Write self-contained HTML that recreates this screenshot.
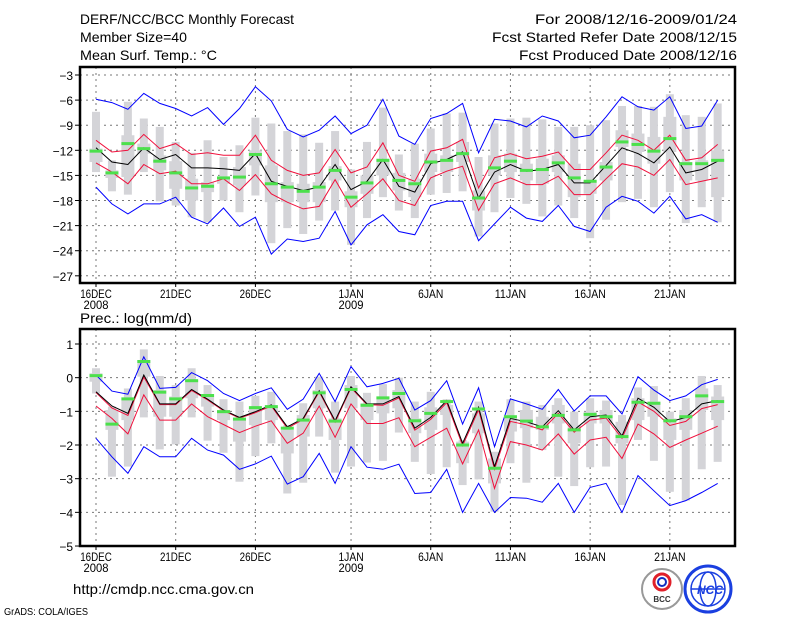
<!DOCTYPE html>
<html><head><meta charset="utf-8"><style>
html,body{margin:0;padding:0;background:#fff;}
svg{display:block;font-family:"Liberation Sans",sans-serif;}
</style></head><body>
<svg id="c" width="800" height="618" viewBox="0 0 800 618" xmlns="http://www.w3.org/2000/svg">
<rect width="800" height="618" fill="#fff"/>
<text x="80" y="24" font-size="14" textLength="214" lengthAdjust="spacingAndGlyphs">DERF/NCC/BCC Monthly Forecast</text>
<text x="80" y="42" font-size="14" textLength="107" lengthAdjust="spacingAndGlyphs">Member Size=40</text>
<text x="80" y="60" font-size="14" textLength="137" lengthAdjust="spacingAndGlyphs">Mean Surf. Temp.: °C</text>
<text x="535" y="24" font-size="14" textLength="202" lengthAdjust="spacingAndGlyphs">For 2008/12/16-2009/01/24</text>
<text x="492" y="42" font-size="14" textLength="245" lengthAdjust="spacingAndGlyphs">Fcst Started Refer Date 2008/12/15</text>
<text x="519" y="60" font-size="14" textLength="218" lengthAdjust="spacingAndGlyphs">Fcst Produced Date 2008/12/16</text>
<text x="80" y="323" font-size="14" textLength="112" lengthAdjust="spacingAndGlyphs">Prec.: log(mm/d)</text>
<text x="73" y="594" font-size="14" textLength="181" lengthAdjust="spacingAndGlyphs">http://cmdp.ncc.cma.gov.cn</text>
<text x="4" y="615" font-size="10" textLength="84" lengthAdjust="spacingAndGlyphs">GrADS: COLA/IGES</text>
<g>
<circle cx="662" cy="589" r="20" fill="#fff" stroke="#999" stroke-width="2"/>
<circle cx="662" cy="582" r="8" fill="none" stroke="#e0202a" stroke-width="3"/>
<circle cx="662" cy="582" r="4" fill="none" stroke="#1030c0" stroke-width="2"/>
<text x="662" y="602" font-size="8" font-weight="bold" text-anchor="middle" fill="#333">BCC</text>
</g>
<g>
<circle cx="708" cy="589" r="23" fill="#fff" stroke="#1a3fe0" stroke-width="3"/>
<ellipse cx="708" cy="589" rx="17" ry="17" fill="none" stroke="#1a3fe0" stroke-width="1.5"/>
<ellipse cx="708" cy="589" rx="8" ry="17" fill="none" stroke="#1a3fe0" stroke-width="1.5"/>
<line x1="691" y1="589" x2="725" y2="589" stroke="#1a3fe0" stroke-width="1.5"/>
<text x="710" y="594" font-size="12" font-weight="bold" font-style="italic" text-anchor="middle" fill="#1a3fe0">NCC</text>
</g>
</svg>
<script>
const days = ["16DEC","17DEC","18DEC","19DEC","20DEC","21DEC","22DEC","23DEC","24DEC","25DEC","26DEC","27DEC","28DEC","29DEC","30DEC","31DEC","1JAN","2JAN","3JAN","4JAN","5JAN","6JAN","7JAN","8JAN","9JAN","10JAN","11JAN","12JAN","13JAN","14JAN","15JAN","16JAN","17JAN","18JAN","19JAN","20JAN","21JAN","22JAN","23JAN","24JAN"];
const xTickLabels = ["16DEC","21DEC","26DEC","1JAN","6JAN","11JAN","16JAN","21JAN"];
const xTickDays = [0,5,10,16,21,26,31,36];
const xYearLabels = ["2008","","","2009","","","",""];
const tTicks = [-3,-6,-9,-12,-15,-18,-21,-24,-27];
const tBlueHi = [-5.9,-6.3,-7.1,-5.2,-6.4,-7,-7.9,-6.9,-8.9,-7,-4.4,-6.1,-9.5,-10.4,-9.6,-7.9,-10,-9,-5.9,-10.3,-11.3,-8.2,-7.6,-6.4,-12.3,-8.3,-8.5,-9.2,-7.9,-8.5,-10.5,-10.2,-8,-5.6,-6.8,-7.2,-5.6,-9.4,-9.1,-6];
const tBlueLo = [-16.4,-18.4,-19.6,-18.4,-18.4,-17.6,-20,-20.8,-18.9,-21.1,-20,-24.4,-22.6,-22.9,-22.5,-19.3,-23.3,-20.9,-19.7,-21.7,-22.1,-18.6,-18.1,-18.1,-22.8,-20.8,-18.8,-20.1,-20.5,-18.6,-21.1,-21.7,-18.8,-17.5,-18.1,-19.5,-17.5,-20.2,-19.7,-20.6];
const tRedHi = [-10.8,-12.2,-12,-10.1,-11.8,-11.2,-12.5,-12.3,-12.6,-12.6,-10.2,-13.2,-14.4,-15,-14.7,-11.9,-14.7,-14,-11.1,-15,-15.7,-12.1,-11.7,-10.7,-16.5,-12.9,-12.4,-13,-12.7,-12.2,-14.3,-14.3,-12.3,-10.2,-10.8,-12,-10.2,-13.2,-12.9,-11.3];
const tRedLo = [-13.5,-14.6,-16,-13.7,-14.8,-14.5,-16,-16,-15.4,-16.8,-14.9,-17.2,-18.2,-19,-18.7,-15.5,-18.8,-17.2,-15.4,-18,-18.6,-15.3,-14.5,-13.9,-19.2,-16,-15.3,-16.1,-16.1,-15.1,-17.3,-17.3,-15.4,-13.6,-14,-15,-13.1,-16.1,-15.7,-15.3];
const tMedian = [-11.7,-13.4,-13.7,-11.7,-13.1,-12.5,-14.1,-14.1,-14.2,-14.4,-12.4,-15.7,-16.3,-16.8,-16.4,-13.7,-16.7,-15.7,-13.1,-16.3,-17,-13.6,-13.1,-12.2,-17.7,-14.6,-13.7,-14.5,-14.3,-13.7,-15.9,-15.9,-13.8,-11.7,-12.4,-13.5,-11.6,-14.7,-14.3,-13.3];
const tGreen = [-12.1,-14.7,-11.2,-11.8,-13.3,-14.7,-16.5,-16.3,-15.3,-15.2,-12.5,-16,-16.4,-16.9,-16.4,-14.4,-17.6,-15.9,-13.2,-15.6,-16,-13.4,-13.2,-12.4,-17.7,-14.1,-13.3,-14.4,-14.3,-13.5,-15.3,-15.7,-14,-11,-11.3,-12.1,-10.6,-13.6,-13.6,-13.2];
const tWhiskHi = [-7.4,-13.2,-6.2,-8.2,-9.2,-11,-12.3,-10.8,-12.8,-11.4,-8.1,-8.8,-9.7,-10.1,-11.1,-9.7,-14.3,-11,-6.9,-12.5,-11.2,-9.4,-7.6,-7.5,-12.8,-8.8,-8.2,-8.1,-8.3,-9.2,-9.2,-9,-8.4,-6.7,-6.7,-6.8,-5.3,-7.8,-8,-6.4];
const tWhiskLo = [-14.6,-16.9,-17.3,-14.6,-18.1,-18.6,-20,-20.6,-18,-19.4,-17.4,-23.1,-21.3,-22,-20.4,-19.2,-23.3,-20.1,-17.6,-19.2,-20.1,-17.3,-17.1,-16.9,-22.3,-19.4,-17.7,-18.4,-19.9,-18.6,-20.1,-22.5,-20.3,-18.2,-17.8,-18.8,-17,-20.7,-18.8,-20.6];
const tBoxHi = [-11.8,-14.4,-10.2,-11.2,-12.6,-13.3,-15.4,-15.8,-15.2,-14,-12,-13.8,-15.8,-16,-15.8,-13.9,-16.9,-15,-13,-14.7,-15.4,-12.4,-12.6,-11,-16.8,-12.6,-12.4,-13.6,-13,-12.6,-13.6,-15.6,-13.4,-9.6,-10,-10.4,-8,-13.4,-13.2,-12];
const tBoxLo = [-13.4,-15.3,-15.2,-12.4,-14.4,-16.6,-18,-17,-16,-16.2,-13.8,-18.2,-18.2,-18.2,-18.2,-15.6,-18.8,-17.2,-15,-16.8,-17.6,-14.6,-14.6,-13.4,-19.2,-15,-14.6,-15.6,-16,-14.6,-17.6,-17.2,-15.6,-11.6,-12.2,-13.6,-12.2,-15.6,-15.6,-17.6];
const pTicks = [1,0,-1,-2,-3,-4,-5];
const pBlueHi = [0.08,-0.4,-0.49,0.62,-0.32,-0.29,0.15,-0.09,-0.47,-0.68,-0.47,-0.3,-0.94,-0.64,0.13,-0.71,0.33,-0.27,-0.17,-0.02,-0.96,-0.68,-0.09,-1.38,-0.3,-2.05,-0.63,-0.78,-0.94,-0.35,-0.99,-0.54,-0.54,-1.08,0.03,-0.37,-0.68,-0.54,-0.21,-0.05];
const pBlueLo = [-1.8,-2.35,-2.84,-2.05,-2.35,-2.35,-1.8,-2.15,-2.3,-2.72,-2.56,-2.33,-3.16,-2.94,-2.25,-3.14,-2.05,-2.66,-2.72,-2.57,-3.44,-3.41,-2.72,-4,-3.14,-4,-3.56,-3.58,-3.7,-3.14,-4,-3.26,-3.14,-4,-2.91,-3.36,-3.8,-3.65,-3.41,-3.14];
const pRedLo = [-0.84,-1.21,-1.67,-0.51,-1.26,-1.26,-0.78,-1.16,-1.39,-1.63,-1.44,-1.28,-1.95,-1.65,-0.84,-1.77,-0.78,-1.36,-1.36,-1.19,-2.05,-1.77,-1.5,-2.56,-1.55,-3.29,-1.9,-2,-2.15,-1.67,-2.27,-1.85,-1.77,-2.4,-1.38,-1.67,-2.07,-1.85,-1.65,-1.44];
const pMedian = [-0.42,-0.84,-1.06,0.08,-0.78,-0.78,-0.35,-0.64,-0.96,-1.18,-1.01,-0.81,-1.46,-1.21,-0.39,-1.28,-0.27,-0.78,-0.78,-0.56,-1.5,-1.18,-0.68,-1.95,-0.88,-2.64,-1.21,-1.31,-1.46,-0.98,-1.55,-1.16,-1.11,-1.73,-0.61,-0.88,-1.31,-1.18,-0.78,-0.68];
const pRedHi = [-0.44,-0.9,-1.12,0.02,-0.8,-0.8,-0.38,-0.66,-0.98,-1.2,-1.04,-0.84,-1.5,-1.24,-0.42,-1.32,-0.3,-0.8,-0.82,-0.6,-1.56,-1.24,-0.74,-2.02,-0.95,-2.72,-1.3,-1.4,-1.55,-1.06,-1.62,-1.26,-1.2,-1.8,-0.72,-1,-1.42,-1.3,-0.92,-0.8];
const pGreen = [0.06,-1.38,-0.63,0.48,-0.43,-0.63,-0.09,-0.53,-1.01,-1.23,-0.89,-0.86,-1.5,-1.26,-0.45,-1.29,-0.35,-0.82,-0.6,-0.47,-1.28,-1.06,-0.71,-2,-0.93,-2.69,-1.16,-1.29,-1.46,-1.12,-1.55,-1.09,-1.16,-1.75,-0.73,-0.76,-1.28,-1.16,-0.54,-0.71];
const pWhiskHi = [0.28,-0.86,-0.32,0.84,0.05,-0.22,0.28,-0.22,-0.64,-0.71,-0.54,-0.42,-1.41,-0.76,0.03,-0.71,0.05,-0.45,-0.19,0,-0.71,-0.42,-0.64,-1.85,-0.71,-2.2,-0.64,-0.71,-0.81,-0.61,-1.01,-0.61,-0.68,-1.11,-0.29,-0.25,-1.01,-0.61,0.05,-0.22];
const pWhiskLo = [-0.47,-2.94,-2.64,-1.18,-2.13,-1.98,-1.18,-1.87,-2.23,-3.09,-2.33,-1.95,-3.44,-3.12,-1.75,-2.82,-2.64,-2.52,-2.47,-1.63,-2.5,-2.86,-2.66,-3.19,-3.02,-3.98,-2.54,-3.12,-2.15,-2.94,-3.22,-2.66,-2.64,-3.78,-1.85,-2.47,-3.39,-3.65,-2.72,-2.5];
const pBoxHi = [0.13,-0.96,-0.66,0.52,-0.37,-0.56,-0.07,-0.56,-0.96,-1.21,-0.91,-0.86,-1.55,-1.11,-0.37,-1.21,-0.22,-0.76,-0.56,-0.37,-1.21,-0.88,-0.81,-1.9,-1.06,-2.4,-1.16,-0.96,-1.16,-0.81,-1.41,-1.01,-0.96,-1.31,-0.61,-0.71,-1.21,-0.96,-0.32,-0.56];
const pBoxLo = [-0.12,-1.55,-1.26,0.03,-1.16,-1.16,-0.61,-0.86,-1.26,-1.9,-1.41,-1.26,-2.25,-1.75,-0.91,-1.85,-0.91,-1.26,-1.06,-0.91,-1.65,-1.55,-1.11,-2.54,-1.65,-3.14,-1.6,-1.5,-1.55,-1.36,-1.95,-1.36,-1.36,-1.95,-1.26,-1.16,-1.85,-1.55,-0.96,-1.26];

const NS = "http://www.w3.org/2000/svg";
const svg = document.getElementById('c');
function mk(tag, attrs, parent){
  const e = document.createElementNS(NS, tag);
  for (const k in attrs) e.setAttribute(k, attrs[k]);
  (parent||svg).appendChild(e);
  return e;
}
const X0 = 96, DX = 15.94;
function xAt(i){ return X0 + i*DX; }

function panel(cfg){
  const g = mk('g', {});
  
  
  const y = v => cfg.yRef + (cfg.vRef - v) * cfg.pxPer;
  cfg.ticks.forEach(t => {
    const l = mk('line', {x1:80, x2:735, y1:y(t), y2:y(t), stroke:'#777', 'stroke-width':1, 'stroke-dasharray':'2,4'}, g);
    
    
    const tk = mk('line', {x1:75, x2:80, y1:y(t), y2:y(t), stroke:'#000', 'stroke-width':1}, g);
    
    
    const lb = mk('text', {x:73, y:y(t)+5, 'font-size':12, 'text-anchor':'end'}, g);
    lb.textContent = (t<0 ? '\u2212'+Math.abs(t) : String(t));
    
    
  });
  xTickDays.forEach((d, k) => {
    const l = mk('line', {x1:xAt(d), x2:xAt(d), y1:cfg.top, y2:cfg.bottom, stroke:'#777', 'stroke-width':1, 'stroke-dasharray':'2,4'}, g);
    
    
    const tk = mk('line', {x1:xAt(d), x2:xAt(d), y1:cfg.bottom, y2:cfg.bottom+4, stroke:'#000', 'stroke-width':1}, g);
    
    
    const lb = mk('text', {x:xAt(d), y:cfg.bottom+15, 'font-size':12, 'text-anchor':'middle', textLength: xTickLabels[k].length*6.3, lengthAdjust:'spacingAndGlyphs'}, g);
    lb.textContent = xTickLabels[k];
    
    
    if (xYearLabels[k]) {
      const yl = mk('text', {x:xAt(d), y:cfg.bottom+26, 'font-size':12, 'text-anchor':'middle', textLength:25, lengthAdjust:'spacingAndGlyphs'}, g);
      yl.textContent = xYearLabels[k];
      
      
    }
  });
  days.forEach((d, i) => {
    const w = mk('rect', {x:xAt(i)-4, y:y(cfg.wHi[i]), width:8, height:y(cfg.wLo[i])-y(cfg.wHi[i]), fill:'#d4d4d8'}, g);
    
    
    const b = mk('rect', {x:xAt(i)-6.5, y:y(cfg.bHi[i]), width:13, height:y(cfg.bLo[i])-y(cfg.bHi[i]), fill:'#d4d4d8'}, g);
    
    
  });
  cfg.lines.forEach(s => {
    const pts = s.data.map((v,i) => xAt(i).toFixed(1)+','+y(v).toFixed(1)).join(' ');
    const pl = mk('polyline', {points:pts, fill:'none', stroke:s.color, 'stroke-width':1}, g);
    
    
  });
  cfg.green.forEach((v, i) => {
    const r = mk('rect', {x:xAt(i)-6.5, y:y(v)-1.5, width:13, height:3, fill:'#4ce04c'}, g);
    
    
  });
  const fr = mk('rect', {x:80, y:cfg.top, width:655, height:cfg.bottom-cfg.top, fill:'none', stroke:'#000', 'stroke-width':2.5}, g);
  
  
}

panel({name:'temperature-panel', top:67, bottom:283, yRef:75, vRef:-3, pxPer:8.367, ticks:tTicks,
  wHi:tWhiskHi, wLo:tWhiskLo, bHi:tBoxHi, bLo:tBoxLo, green:tGreen,
  lines:[{data:tBlueHi,color:'#0000ff',name:'temp-max-line'},{data:tBlueLo,color:'#0000ff',name:'temp-min-line'},
         {data:tRedHi,color:'#f0103c',name:'temp-upper-line'},{data:tRedLo,color:'#f0103c',name:'temp-lower-line'},
         {data:tMedian,color:'#000',name:'temp-median-line'}]});
panel({name:'precip-panel', top:329, bottom:546, yRef:344, vRef:1, pxPer:33.67, ticks:pTicks,
  wHi:pWhiskHi, wLo:pWhiskLo, bHi:pBoxHi, bLo:pBoxLo, green:pGreen,
  lines:[{data:pBlueHi,color:'#0000ff',name:'precip-max-line'},{data:pBlueLo,color:'#0000ff',name:'precip-min-line'},
         {data:pRedHi,color:'#f0103c',name:'precip-upper-line'},{data:pRedLo,color:'#f0103c',name:'precip-lower-line'},
         {data:pMedian,color:'#000',name:'precip-median-line'}]});
</script>
</body></html>
